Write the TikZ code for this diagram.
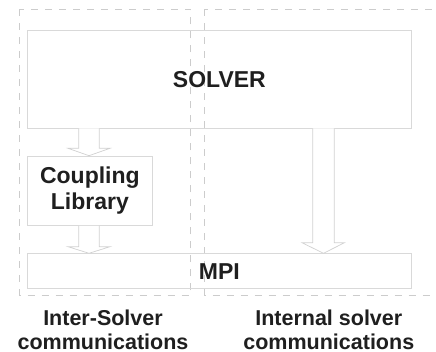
\documentclass[tikz,border=0pt]{standalone}
\usepackage{fontspec}
\setmainfont{Liberation Sans}
\begin{document}
\begin{tikzpicture}[x=1pt,y=-1pt,
  box/.style={draw=black!15,line width=0.8pt,inner sep=0pt},
  region/.style={draw=black!20,line width=0.8pt,dash pattern=on 7pt off 7pt},
  fatarrow/.style={draw=black!18,line width=0.7pt,fill=white},
  big/.style={font=\fontsize{23}{26}\selectfont\bfseries,text=black!88},
  captxt/.style={font=\fontsize{21.5}{24}\selectfont\bfseries,text=black!88,align=center,inner sep=0pt}]
\useasboundingbox (0,0) rectangle (436,352);
\clip (0,0) rectangle (436,352);
% regions
\draw[region] (19.5,9.5) rectangle (190.5,295.5);
\draw[region] (204.5,9.5) rectangle (445,295.5);
% boxes
\node[box,minimum width=384.6pt,minimum height=97.4pt,anchor=north west] (solver) at (26.7,30.3) {};
\node[big] (solvert) at (solver.center) {SOLVER};
\node[box,minimum width=125.6pt,minimum height=69.3pt,anchor=north west,big,align=center] (coupling) at (26.7,155.7) {Coupling\\Library};
\node[box,minimum width=384.6pt,minimum height=35pt,anchor=north west] (mpi) at (26.7,253.3) {};
\node[big] (mpit) at ([yshift=-0.5pt]mpi.center) {MPI};
% arrows
\coordinate (a1) at (89,0);
\draw[fatarrow] (solver.south -| 78.7,0) -- (78.7,148.3) -- (68,148.3) -- (coupling.north -| a1) -- (110,148.3) -- (99.3,148.3) -- (solver.south -| 99.3,0);
\draw[fatarrow] (coupling.south -| 78.7,0) -- (78.7,246.7) -- (68,246.7) -- (mpi.north -| a1) -- (110,246.7) -- (99.3,246.7) -- (coupling.south -| 99.3,0);
\coordinate (a2) at (323.5,0);
\draw[fatarrow] (solver.south -| 312.7,0) -- (312.7,242.7) -- (302,242.7) -- (mpi.north -| a2) -- (344.5,242.7) -- (334.3,242.7) -- (solver.south -| 334.3,0);
% captions
\node[captxt,anchor=base] (capl) at (103,349) {Inter-Solver\\communications};
\node[captxt,anchor=base] (capr) at (328.8,349) {Internal solver\\communications};
\end{tikzpicture}
\end{document}
